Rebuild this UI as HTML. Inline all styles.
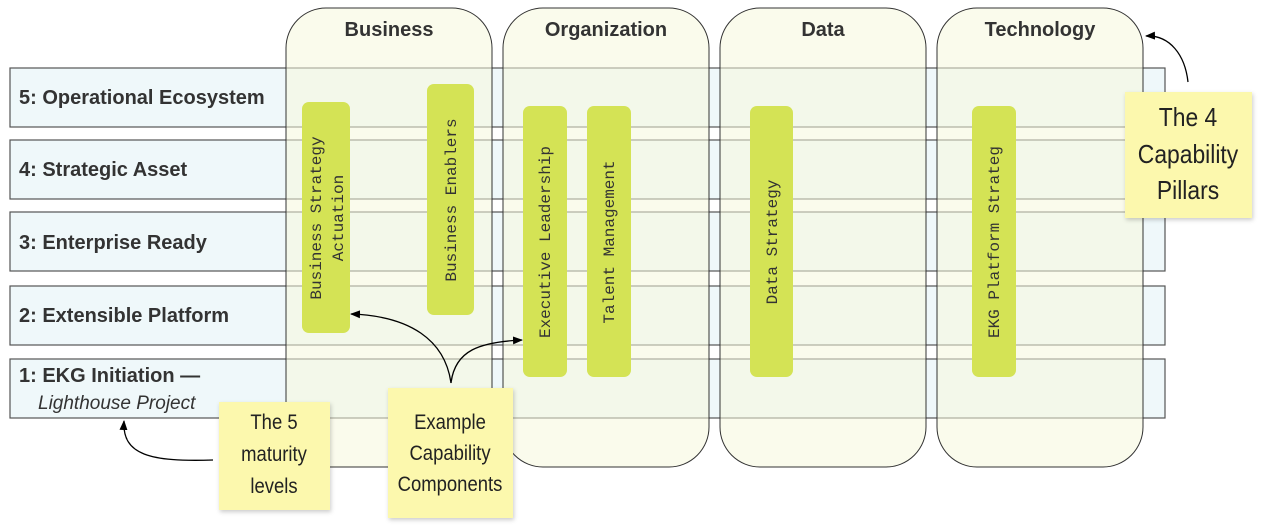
<!DOCTYPE html>
<html><head><style>html,body{margin:0;padding:0;background:#fff;}svg{display:block}</style></head><body>
<svg width="1263" height="528" viewBox="0 0 1263 528" xmlns="http://www.w3.org/2000/svg">
<defs><marker id="ah" markerWidth="10" markerHeight="8" refX="9" refY="4" orient="auto" markerUnits="userSpaceOnUse"><path d="M0,0 L10,4 L0,8 z" fill="#000"/></marker></defs>
<g fill="#eff8fa" stroke="#555" stroke-width="1.2">
<rect x="10" y="68" width="1155" height="59"/>
<rect x="10" y="140" width="1155" height="59"/>
<rect x="10" y="212" width="1155" height="59"/>
<rect x="10" y="286" width="1155" height="59"/>
<rect x="10" y="359" width="1155" height="59"/>
</g>
<g fill="#f5f8dc" fill-opacity="0.55" stroke="#333" stroke-width="1">
<rect x="286" y="8" width="206" height="459" rx="40"/>
<rect x="503" y="8" width="206" height="459" rx="40"/>
<rect x="720" y="8" width="206" height="459" rx="40"/>
<rect x="937" y="8" width="206" height="459" rx="40"/>
</g>
<g font-family="Liberation Sans, sans-serif" font-weight="bold" font-size="20" fill="#333" text-anchor="middle">
<text x="389" y="36">Business</text><text x="606" y="36">Organization</text><text x="823" y="36">Data</text><text x="1040" y="36">Technology</text>
</g>
<g font-family="Liberation Sans, sans-serif" font-weight="bold" font-size="20" fill="#333">
<text x="19" y="104">5: Operational Ecosystem</text>
<text x="19" y="176">4: Strategic Asset</text>
<text x="19" y="249">3: Enterprise Ready</text>
<text x="19" y="322">2: Extensible Platform</text>
<text x="19" y="382">1: EKG Initiation —</text>
<text x="38" y="409" font-weight="normal" font-style="italic" font-size="19">Lighthouse Project</text>
</g>
<g fill="#d4e355">
<rect x="302" y="102" width="48" height="231" rx="7"/>
<rect x="427" y="84" width="47" height="231" rx="7"/>
<rect x="523" y="106" width="44" height="271" rx="7"/>
<rect x="587" y="106" width="44" height="271" rx="7"/>
<rect x="750" y="106" width="43" height="271" rx="7"/>
<rect x="972" y="106" width="44" height="271" rx="7"/>
</g>
<g font-family="Liberation Mono, monospace" font-size="16" fill="#333" text-anchor="middle">
<text transform="translate(321,218) rotate(-90)">Business Strategy</text>
<text transform="translate(343,218) rotate(-90)">Actuation</text>
<text transform="translate(456,200) rotate(-90)">Business Enablers</text>
<text transform="translate(550,242) rotate(-90)">Executive Leadership</text>
<text transform="translate(614,242) rotate(-90)">Talent Management</text>
<text transform="translate(777,242) rotate(-90)">Data Strategy</text>
<text transform="translate(999,242) rotate(-90)">EKG Platform Strateg</text>
</g>
<g fill="none" stroke="#000" stroke-width="1.3">
<path d="M213,460 C150,462 122,455 124,421" marker-end="url(#ah)"/>
<path d="M451,383 C445,340 410,316 351,314" marker-end="url(#ah)"/>
<path d="M451,383 C455,350 480,342 522,340" marker-end="url(#ah)"/>
<path d="M1188,82 C1185,55 1170,35 1146,36" marker-end="url(#ah)"/>
</g>
<g fill="#fcf8ad" style="filter:drop-shadow(1px 2px 2px rgba(0,0,0,0.2))">
<rect x="219" y="402" width="111" height="108"/>
<rect x="388" y="388" width="125" height="130"/>
<rect x="1125" y="92" width="127" height="126"/>
</g>
<g font-family="Liberation Sans, sans-serif" font-size="21" fill="#222" text-anchor="middle">
<text transform="translate(274,429) scale(0.88,1)">The 5</text>
<text transform="translate(274,461) scale(0.88,1)">maturity</text>
<text transform="translate(274,493) scale(0.88,1)">levels</text>
<text transform="translate(450,429) scale(0.88,1)">Example</text>
<text transform="translate(450,460) scale(0.88,1)">Capability</text>
<text transform="translate(450,491) scale(0.88,1)">Components</text>
<text transform="translate(1188,126) scale(0.88,1)" font-size="26">The 4</text>
<text transform="translate(1188,163) scale(0.88,1)" font-size="26">Capability</text>
<text transform="translate(1188,199) scale(0.88,1)" font-size="26">Pillars</text>
</g>
</svg>
</body></html>
